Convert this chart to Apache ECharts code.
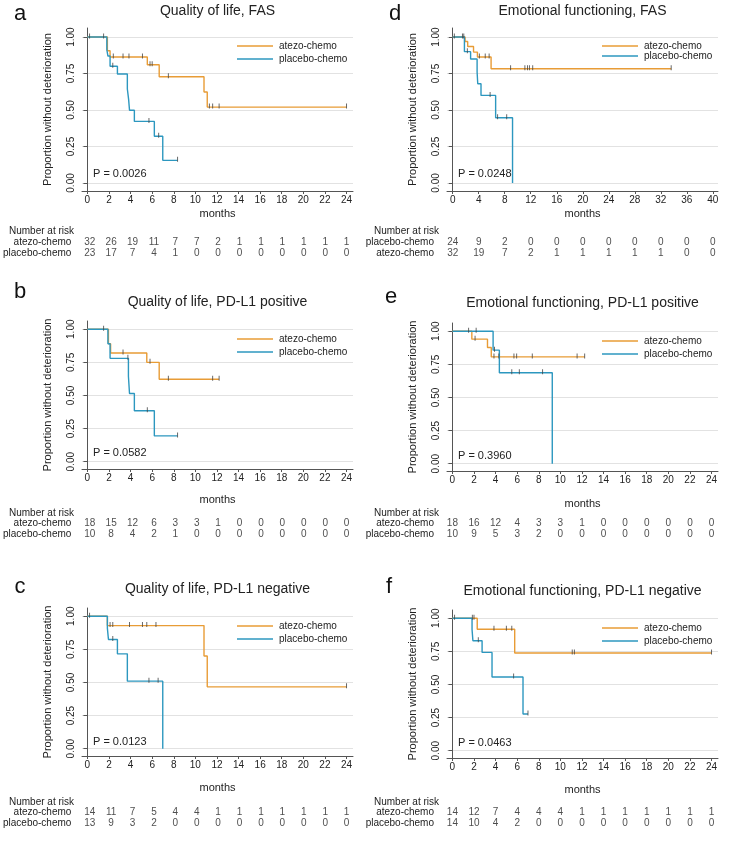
<!DOCTYPE html>
<html>
<head>
<meta charset="utf-8">
<script src="https://cdn.jsdelivr.net/npm/echarts@6/dist/echarts.min.js"></script>
<style>
  html, body { margin: 0; background: #fff; }
  #chart { width: 730px; height: 852px; }
</style>
</head>
<body>
<div id="chart"></div>
<script>
// tick labels
const ticks24 = [0, 2, 4, 6, 8, 10, 12, 14, 16, 18, 20, 22, 24]
const ticks40 = [0, 4, 8, 12, 16, 20, 24, 28, 32, 36, 40]
const yTicks = [0, 0.25, 0.5, 0.75, 1]
const armNames = ['atezo-chemo', 'placebo-chemo']

// a: Quality of life, FAS  ([month, proportion] at each step)
const qolFasAtezo = [[0, 1], [1.85, 0.906], [2.1, 0.863], [5.55, 0.81], [6.65, 0.728], [10.8, 0.623], [11.1, 0.52], [24, 0.52]]
const qolFasPlacebo = [[0, 1], [1.8, 0.913], [1.9, 0.87], [2.1, 0.8], [2.78, 0.747], [3.7, 0.644], [3.82, 0.571], [3.9, 0.498], [4.35, 0.422], [6.2, 0.32], [6.98, 0.155], [8.35, 0.155]]
const qolFasAtezoCens = [0.2, 1.5, 2.4, 3.3, 3.85, 5.1, 5.8, 6.0, 7.5, 11.3, 11.6, 12.2, 24]
const qolFasPlaceboCens = [2.35, 5.7, 6.6, 8.35]
const qolFasRiskAtezo = [32, 26, 19, 11, 7, 7, 2, 1, 1, 1, 1, 1, 1]
const qolFasRiskPlacebo = [23, 17, 7, 4, 1, 0, 0, 0, 0, 0, 0, 0, 0]

// b: Quality of life, PD-L1 positive
const qolPosAtezo = [[0, 1], [1.95, 0.89], [2.15, 0.82], [5.5, 0.75], [6.65, 0.622], [12.2, 0.622]]
const qolPosPlacebo = [[0, 1], [1.9, 0.89], [2.1, 0.78], [3.8, 0.645], [3.9, 0.515], [4.35, 0.385], [6.2, 0.195], [8.35, 0.195]]
const qolPosAtezoCens = [1.5, 3.3, 5.8, 7.5, 11.6, 12.2]
const qolPosPlaceboCens = [3.75, 5.55, 8.35]
const qolPosRiskAtezo = [18, 15, 12, 6, 3, 3, 1, 0, 0, 0, 0, 0, 0]
const qolPosRiskPlacebo = [10, 8, 4, 2, 1, 0, 0, 0, 0, 0, 0, 0, 0]

// c: Quality of life, PD-L1 negative
const qolNegAtezo = [[0, 1], [1.85, 0.929], [10.8, 0.7], [11.1, 0.467], [24, 0.467]]
const qolNegPlacebo = [[0, 1], [1.85, 0.91], [1.95, 0.824], [2.78, 0.716], [3.7, 0.51], [6.98, 0]]
const qolNegAtezoCens = [0.2, 2.1, 2.35, 3.9, 5.1, 5.5, 6.35, 24]
const qolNegPlaceboCens = [2.35, 5.7, 6.55]
const qolNegRiskAtezo = [14, 11, 7, 5, 4, 4, 1, 1, 1, 1, 1, 1, 1]
const qolNegRiskPlacebo = [13, 9, 3, 2, 0, 0, 0, 0, 0, 0, 0, 0, 0]

// d: Emotional functioning, FAS
const efFasAtezo = [[0, 1], [1.9, 0.97], [2.3, 0.935], [3.2, 0.897], [3.8, 0.863], [5.9, 0.783], [33.6, 0.783]]
const efFasPlacebo = [[0, 1], [1.8, 0.9], [2.75, 0.85], [3.75, 0.76], [3.85, 0.68], [4.35, 0.6], [6.6, 0.447], [9.2, 0]]
const efFasAtezoCens = [0.25, 1.5, 1.7, 4.1, 5.0, 5.6, 8.9, 11.1, 11.5, 11.8, 12.3, 33.6]
const efFasPlaceboCens = [2.25, 5.75, 6.9, 8.3]
const efFasRiskPlacebo = [24, 9, 2, 0, 0, 0, 0, 0, 0, 0, 0]
const efFasRiskAtezo = [32, 19, 7, 2, 1, 1, 1, 1, 1, 0, 0]

// e: Emotional functioning, PD-L1 positive
const efPosAtezo = [[0, 1], [1.8, 0.94], [3.25, 0.877], [3.6, 0.806], [12.25, 0.806]]
const efPosPlacebo = [[0, 1], [3.77, 0.857], [4.35, 0.686], [9.25, 0]]
const efPosAtezoCens = [1.5, 2.1, 3.85, 4.3, 5.7, 5.95, 7.4, 11.55, 12.25]
const efPosPlaceboCens = [2.2, 3.9, 5.5, 6.2, 8.35]
const efPosRiskAtezo = [18, 16, 12, 4, 3, 3, 1, 0, 0, 0, 0, 0, 0]
const efPosRiskPlacebo = [10, 9, 5, 3, 2, 0, 0, 0, 0, 0, 0, 0, 0]

// f: Emotional functioning, PD-L1 negative
const efNegAtezo = [[0, 1], [2.3, 0.917], [5.77, 0.737], [24, 0.737]]
const efNegPlacebo = [[0, 1], [1.82, 0.915], [1.9, 0.83], [2.75, 0.742], [3.67, 0.556], [6.54, 0.277], [7.0, 0.277]]
const efNegAtezoCens = [0.2, 1.85, 2.0, 3.85, 5.0, 5.5, 11.1, 11.3, 24]
const efNegPlaceboCens = [2.4, 5.67, 7.0]
const efNegRiskAtezo = [14, 12, 7, 4, 4, 4, 1, 1, 1, 1, 1, 1, 1]
const efNegRiskPlacebo = [14, 10, 4, 2, 0, 0, 0, 0, 0, 0, 0, 0, 0]

const titles = ['Quality of life, FAS', 'Quality of life, PD-L1 positive', 'Quality of life, PD-L1 negative',
  'Emotional functioning, FAS', 'Emotional functioning, PD-L1 positive', 'Emotional functioning, PD-L1 negative']
const letters = ['a', 'b', 'c', 'd', 'e', 'f']
const pValues = ['P = 0.0026', 'P = 0.0582', 'P = 0.0123', 'P = 0.0248', 'P = 0.3960', 'P = 0.0463']

const FONT = '"Liberation Sans", Arial, sans-serif'
const ORANGE = '#E89C36'
const BLUE = '#2C97BF'
const TEXT = '#222'
const AXIS = '#555'

// layout of each panel (pixels)
const layouts = [
  { left: 82, top: 28, h: 163, xmin: -0.5, xmax: 24.6, letterX: 20, letterY: 14, titleY: 11, nameGap: 17, risk1: 242, nar: 231, pY: 174, legGap: 1 },
  { left: 82, top: 321, h: 148, xmin: -0.5, xmax: 24.6, letterX: 20, letterY: 292, titleY: 302, nameGap: 25, risk1: 523, nar: 513, pY: 453, legGap: 1 },
  { left: 82, top: 608, h: 148, xmin: -0.5, xmax: 24.6, letterX: 20, letterY: 587, titleY: 589, nameGap: 26, risk1: 812, nar: 802, pY: 742, legGap: 1 },
  { left: 447, top: 28, h: 163, xmin: -0.88, xmax: 40.8, letterX: 395, letterY: 14, titleY: 11, nameGap: 17, risk1: 242, nar: 231, pY: 174, legGap: -2 },
  { left: 447, top: 323, h: 148, xmin: -0.5, xmax: 24.6, letterX: 391, letterY: 297, titleY: 303, nameGap: 27, risk1: 523, nar: 513, pY: 456, legGap: 1 },
  { left: 447, top: 610, h: 148, xmin: -0.5, xmax: 24.6, letterX: 389, letterY: 587, titleY: 591, nameGap: 26, risk1: 812, nar: 802, pY: 743, legGap: 1 }
]
const GRID_W = 271
const ROW_H = 11

const panelData = [
  { atezo: qolFasAtezo, placebo: qolFasPlacebo, atezoCens: qolFasAtezoCens, placeboCens: qolFasPlaceboCens, ticks: ticks24, rows: armNames, risk: [qolFasRiskAtezo, qolFasRiskPlacebo] },
  { atezo: qolPosAtezo, placebo: qolPosPlacebo, atezoCens: qolPosAtezoCens, placeboCens: qolPosPlaceboCens, ticks: ticks24, rows: armNames, risk: [qolPosRiskAtezo, qolPosRiskPlacebo] },
  { atezo: qolNegAtezo, placebo: qolNegPlacebo, atezoCens: qolNegAtezoCens, placeboCens: qolNegPlaceboCens, ticks: ticks24, rows: armNames, risk: [qolNegRiskAtezo, qolNegRiskPlacebo] },
  { atezo: efFasAtezo, placebo: efFasPlacebo, atezoCens: efFasAtezoCens, placeboCens: efFasPlaceboCens, ticks: ticks40, rows: ['placebo-chemo', 'atezo-chemo'], risk: [efFasRiskPlacebo, efFasRiskAtezo] },
  { atezo: efPosAtezo, placebo: efPosPlacebo, atezoCens: efPosAtezoCens, placeboCens: efPosPlaceboCens, ticks: ticks24, rows: armNames, risk: [efPosRiskAtezo, efPosRiskPlacebo] },
  { atezo: efNegAtezo, placebo: efNegPlacebo, atezoCens: efNegAtezoCens, placeboCens: efNegPlaceboCens, ticks: ticks24, rows: armNames, risk: [efNegRiskAtezo, efNegRiskPlacebo] }
]

// survival value at time t from a step curve
const survAt = (curve, t) => {
  let s = curve[0][1]
  curve.forEach(p => { if (p[0] <= t) s = p[1] })
  return s
}

const grid = [], xAxis = [], yAxis = [], series = [], legend = [], graphic = []

panelData.forEach((pd, i) => {
  const L = layouts[i]
  const g = 2 * i
  grid.push({ left: L.left, top: L.top, width: GRID_W, height: L.h })
  // risk table grid
  grid.push({ left: L.left, top: L.risk1 - ROW_H / 2, width: GRID_W, height: ROW_H * 2 })

  xAxis.push({
    gridIndex: g, type: 'value', min: L.xmin, max: L.xmax,
    name: 'months', nameLocation: 'middle', nameGap: L.nameGap,
    nameTextStyle: { fontSize: 11, color: TEXT, fontFamily: FONT },
    axisLine: { show: true, onZero: false, lineStyle: { color: AXIS, width: 1 } },
    axisTick: { show: true, length: 3, customValues: pd.ticks, lineStyle: { color: AXIS } },
    axisLabel: { customValues: pd.ticks, margin: 4, fontSize: 10, color: TEXT, fontFamily: FONT },
    splitLine: { show: false }
  })
  xAxis.push({
    gridIndex: g + 1, type: 'value', min: L.xmin, max: L.xmax, show: false
  })
  yAxis.push({
    gridIndex: g, type: 'value', min: -0.055, max: 1.062,
    name: 'Proportion without deterioration', nameLocation: 'middle', nameGap: 29,
    nameTextStyle: { fontSize: 11, color: TEXT, fontFamily: FONT },
    axisLine: { show: true, lineStyle: { color: AXIS, width: 1 } },
    axisTick: { show: true, length: 4, customValues: yTicks, lineStyle: { color: AXIS } },
    axisLabel: { customValues: yTicks, rotate: 90, margin: 6, fontSize: 10, color: TEXT, fontFamily: FONT,
      formatter: v => v.toFixed(2) },
    splitLine: { show: true, lineStyle: { color: '#e2e2e2', width: 1 } }
  })
  yAxis.push({
    gridIndex: g + 1, type: 'category', inverse: true, data: pd.rows,
    axisLine: { show: false }, axisTick: { show: false },
    axisLabel: { interval: 0, margin: 13, fontSize: 10, color: TEXT, fontFamily: FONT },
    splitLine: { show: false }
  })

  series.push({
    name: 'atezo-chemo', type: 'line', step: 'end', xAxisIndex: g, yAxisIndex: g,
    data: pd.atezo, showSymbol: false, lineStyle: { color: ORANGE, width: 1.4 }, itemStyle: { color: ORANGE },
    z: 3, animation: false
  })
  series.push({
    name: 'placebo-chemo', type: 'line', step: 'end', xAxisIndex: g, yAxisIndex: g,
    data: pd.placebo, showSymbol: false, lineStyle: { color: BLUE, width: 1.4 }, itemStyle: { color: BLUE },
    z: 4, animation: false
  })
  series.push({
    name: 'atezo censored ' + i, type: 'scatter', xAxisIndex: g, yAxisIndex: g,
    data: pd.atezoCens.map(t => [t, survAt(pd.atezo, t)]),
    symbol: 'rect', symbolSize: [1, 5], symbolOffset: [0, -1], itemStyle: { color: '#444' }, z: 5, animation: false
  })
  series.push({
    name: 'placebo censored ' + i, type: 'scatter', xAxisIndex: g, yAxisIndex: g,
    data: pd.placeboCens.map(t => [t, survAt(pd.placebo, t)]),
    symbol: 'rect', symbolSize: [1, 5], symbolOffset: [0, -1], itemStyle: { color: '#444' }, z: 5, animation: false
  })
  // number at risk
  series.push({
    name: 'risk ' + i, type: 'scatter', xAxisIndex: g + 1, yAxisIndex: g + 1,
    data: pd.risk.flatMap((row, r) => row.map((n, j) => [pd.ticks[j], r, n])),
    symbolSize: 0, animation: false,
    label: { show: true, position: 'inside', formatter: p => p.value[2], fontSize: 10, color: TEXT, fontFamily: FONT }
  })

  legend.push({
    data: armNames, orient: 'vertical', left: L.left + 150, top: L.top + 7,
    icon: 'rect', itemWidth: 36, itemHeight: 1.5, itemGap: L.legGap, selectedMode: false,
    textStyle: { fontSize: 10, color: TEXT, fontFamily: FONT, lineHeight: 12, padding: [0, 0, 0, 1] }
  })

  graphic.push({
    type: 'text', x: L.letterX, y: L.letterY,
    style: { text: letters[i], font: '22px ' + FONT, fill: '#111', textAlign: 'center', textVerticalAlign: 'middle' }
  })
  graphic.push({
    type: 'text', x: L.left + GRID_W / 2, y: L.titleY,
    style: { text: titles[i], font: '14px ' + FONT, fill: TEXT, textAlign: 'center', textVerticalAlign: 'middle' }
  })
  graphic.push({
    type: 'text', x: L.left + 11, y: L.pY,
    style: { text: pValues[i], font: '11px ' + FONT, fill: TEXT, textAlign: 'left', textVerticalAlign: 'middle' }
  })
  graphic.push({
    type: 'text', x: L.left - 8, y: L.nar,
    style: { text: 'Number at risk', font: '10px ' + FONT, fill: TEXT, textAlign: 'right', textVerticalAlign: 'middle' }
  })
})

const chart = echarts.init(document.getElementById('chart'), null, { renderer: 'canvas' })
chart.setOption({
  backgroundColor: '#fff',
  animation: false,
  textStyle: { fontFamily: FONT },
  grid, xAxis, yAxis, series, legend, graphic
})
</script>
</body>
</html>
